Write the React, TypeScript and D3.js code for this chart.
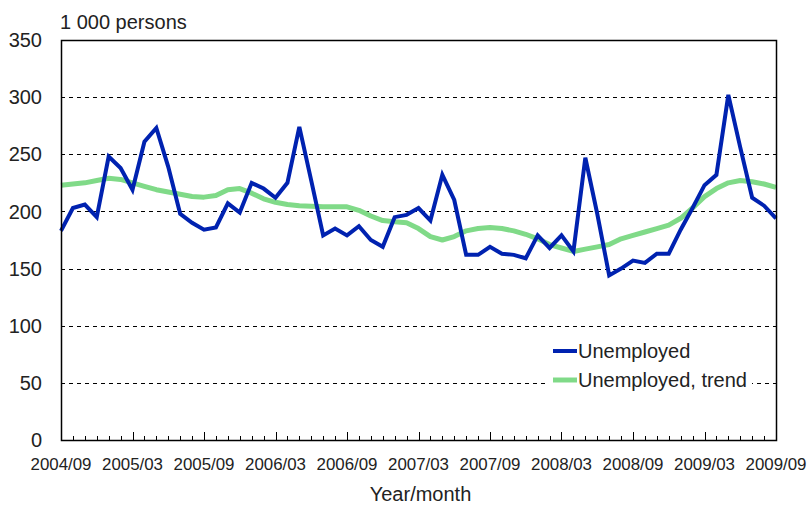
import React from "react";
import * as d3 from "d3";

const tickLabels = ["2004/09", "2005/03", "2005/09", "2006/03", "2006/09", "2007/03", "2007/09", "2008/03", "2008/09", "2009/03", "2009/09"];
const yTicks = [0, 50, 100, 150, 200, 250, 300, 350];

const unemployed = [
  183, 203, 206, 195, 248, 238, 219, 261, 273, 239, 198, 190,
  184, 186, 207, 199, 225, 220, 212, 225, 274, 227, 179, 185,
  179, 187, 175, 169, 195, 197, 203, 192, 232, 210, 162, 162,
  169, 163, 162, 159, 179, 168, 179, 165, 247, 198, 144, 150,
  157, 155, 163, 163, 184, 203, 223, 232, 302, 256, 212, 205,
  194,
];

const trend = [
  223, 224, 225, 227, 229, 228, 225, 222, 219, 217, 215, 213,
  212.5, 214, 219, 220, 216, 211, 208, 206, 205, 204.5, 204, 204,
  204, 201, 196, 192, 191, 190, 185, 178, 175, 178, 183, 185,
  186, 185, 183, 180, 176, 171, 168, 165, 167, 169, 171, 176,
  179, 182, 185, 188, 194, 203, 213, 220, 225, 227, 226, 224,
  221,
];

const seriesNames = ["Unemployed", "Unemployed, trend"];

const W = 807, H = 506;
const L = 61, R = 776, T = 40, B = 440;
const FONT = "'Liberation Sans', Arial, sans-serif";

export default function App() {
  const n = unemployed.length;
  const x = d3.scaleLinear().domain([0, n - 1]).range([L, R]);
  const y = d3.scaleLinear().domain([0, 350]).range([B, T]);
  const line = d3.line<number>().x((_, i) => x(i)).y((d) => y(d));
  const months = d3.range(n);

  return (
    <svg width={W} height={H} style={{ position: "absolute", left: 0, top: 0, background: "#fff" }} fontFamily={FONT}>
      <rect x={0} y={0} width={W} height={H} fill="#fff" />
      {yTicks.filter((t) => t > 0 && t < 350).map((t) => (
        <line key={t} x1={L} x2={R} y1={Math.round(y(t)) + 0.5} y2={Math.round(y(t)) + 0.5} stroke="#000" strokeWidth={1} strokeDasharray="4,4" />
      ))}
      {yTicks.map((t) => (
        <text key={t} x={42} y={y(t)} dy="0.36em" textAnchor="end" fontSize={20} fill="#222">{t}</text>
      ))}
      <text x={60} y={29} fontSize={20} fill="#222">1 000 persons</text>
      {/* axis ticks */}
      {months.map((i) => (
        <line key={i} x1={Math.round(x(i)) + 0.5} x2={Math.round(x(i)) + 0.5} y1={B} y2={B - (i % 6 === 0 ? 8 : 4)} stroke="#000" strokeWidth={1} />
      ))}
      {tickLabels.map((lab, k) => (
        <text key={lab} x={x(k * 6)} y={470} textAnchor="middle" fontSize={17} fill="#222" textLength={61} lengthAdjust="spacingAndGlyphs">{lab}</text>
      ))}
      <text x={(L + R) / 2 + 2} y={501} textAnchor="middle" fontSize={20} fill="#222">Year/month</text>
      <path d={line(trend) || ""} fill="none" stroke="#80da88" strokeWidth={5} strokeLinejoin="round" />
      <path d={line(unemployed) || ""} fill="none" stroke="#0022b0" strokeWidth={4} strokeLinejoin="miter" />
      {/* legend */}
      <rect x={546} y={336} width={206} height={56} fill="#fff" />
      <line x1={553} x2={577} y1={351} y2={351} stroke="#0022b0" strokeWidth={4} />
      <line x1={553} x2={577} y1={380} y2={380} stroke="#80da88" strokeWidth={5} />
      <text x={578} y={351} dy="0.36em" fontSize={20} fill="#222">{seriesNames[0]}</text>
      <text x={578} y={380} dy="0.36em" fontSize={20} fill="#222">{seriesNames[1]}</text>
      <rect x={L + 0.5} y={T + 0.5} width={R - L} height={B - T} fill="none" stroke="#000" strokeWidth={1.5} />
    </svg>
  );
}
